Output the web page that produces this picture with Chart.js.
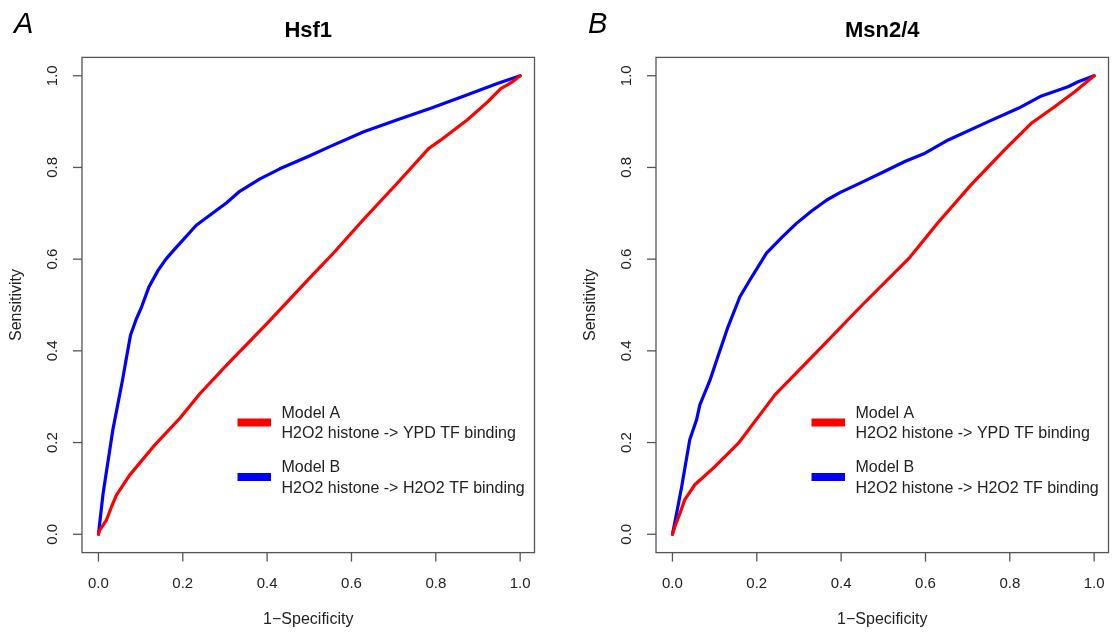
<!DOCTYPE html>
<html>
<head>
<meta charset="utf-8">
<script src="https://cdn.jsdelivr.net/npm/chart.js@4/dist/chart.umd.min.js"></script>
<style>
  body { margin: 0; background: #fff; }
  #wrap { position: relative; width: 1114px; height: 632px; }
  canvas { position: absolute; top: 0; }
</style>
</head>
<body>
<div id="wrap">
  <canvas id="hsf1Chart" width="540" height="632" style="left:0px"></canvas>
  <canvas id="msnChart" width="540" height="632" style="left:574px"></canvas>
</div>
<script>
// ROC curves (x = 1-specificity, y = sensitivity)
const hsf1ModelAFpr = [0, 0.003, 0.019, 0.031, 0.043, 0.074, 0.13, 0.193, 0.241, 0.3, 0.4, 0.5, 0.558, 0.629, 0.709, 0.784, 0.812, 0.875, 0.923, 0.954, 0.97, 0.982, 1];
const hsf1ModelATpr = [0, 0.009, 0.031, 0.06, 0.086, 0.129, 0.191, 0.253, 0.307, 0.365, 0.46, 0.558, 0.614, 0.687, 0.766, 0.842, 0.86, 0.904, 0.943, 0.972, 0.98, 0.987, 1];

const hsf1ModelBFpr = [0, 0.011, 0.034, 0.057, 0.066, 0.076, 0.09, 0.102, 0.12, 0.141, 0.16, 0.177, 0.232, 0.304, 0.335, 0.383, 0.43, 0.5, 0.55, 0.629, 0.709, 0.788, 0.867, 0.946, 1];
const hsf1ModelBTpr = [0, 0.089, 0.227, 0.336, 0.383, 0.434, 0.47, 0.495, 0.54, 0.575, 0.6, 0.618, 0.674, 0.723, 0.748, 0.775, 0.797, 0.825, 0.846, 0.878, 0.904, 0.929, 0.956, 0.983, 1];

const msnModelAFpr = [0, 0.006, 0.018, 0.029, 0.053, 0.1, 0.156, 0.243, 0.35, 0.45, 0.563, 0.63, 0.709, 0.788, 0.852, 0.907, 0.954, 1];
const msnModelATpr = [0, 0.017, 0.046, 0.075, 0.108, 0.147, 0.198, 0.304, 0.405, 0.5, 0.604, 0.68, 0.763, 0.839, 0.897, 0.933, 0.965, 1];

const msnModelBFpr = [0, 0.01, 0.022, 0.041, 0.057, 0.065, 0.089, 0.105, 0.132, 0.16, 0.184, 0.223, 0.26, 0.294, 0.33, 0.366, 0.397, 0.45, 0.5, 0.551, 0.599, 0.654, 0.749, 0.82, 0.875, 0.938, 0.962, 1];
const msnModelBTpr = [0, 0.046, 0.104, 0.206, 0.249, 0.282, 0.336, 0.38, 0.453, 0.518, 0.555, 0.613, 0.648, 0.678, 0.705, 0.729, 0.745, 0.768, 0.79, 0.813, 0.831, 0.86, 0.9, 0.929, 0.956, 0.976, 0.987, 1];

const tickValues = [0, 0.2, 0.4, 0.6, 0.8, 1.0];
const tickLabels = ["0.0", "0.2", "0.4", "0.6", "0.8", "1.0"];

const legendLabels = [
    ["Model A", "H2O2 histone -> YPD TF binding"],
    ["Model B", "H2O2 histone -> H2O2 TF binding"]
];

const FONT = '"Liberation Sans", Arial, Helvetica, sans-serif';

function toPoints(xs, ys) {
    return xs.map((x, i) => ({ x: x, y: ys[i] }));
}

// draws the R style frame: box, ticks, labels, titles, legend
const rFrame = {
    id: "rFrame",
    afterDraw(chart, args, opts) {
        const ctx = chart.ctx;
        const area = chart.chartArea;
        const xs = chart.scales.x;
        const ys = chart.scales.y;
        const tickLen = 9;

        ctx.save();
        ctx.strokeStyle = "#555";
        ctx.lineWidth = 1.3;
        ctx.strokeRect(area.left, area.top, area.right - area.left, area.bottom - area.top);

        ctx.fillStyle = "#222";
        ctx.font = "15px " + FONT;
        tickValues.forEach((v, i) => {
            const px = xs.getPixelForValue(v);
            ctx.beginPath();
            ctx.moveTo(px, area.bottom);
            ctx.lineTo(px, area.bottom + tickLen);
            ctx.stroke();
            ctx.textAlign = "center";
            ctx.textBaseline = "middle";
            ctx.fillText(tickLabels[i], px, 584);

            const py = ys.getPixelForValue(v);
            ctx.beginPath();
            ctx.moveTo(area.left, py);
            ctx.lineTo(area.left - tickLen, py);
            ctx.stroke();
            ctx.save();
            ctx.translate(area.left - 29.5, py);
            ctx.rotate(-Math.PI / 2);
            ctx.fillText(tickLabels[i], 0, 0);
            ctx.restore();
        });

        // axis titles
        ctx.font = "16px " + FONT;
        ctx.textAlign = "center";
        ctx.textBaseline = "middle";
        ctx.fillText("1\u2212Specificity", (area.left + area.right) / 2, 620);
        ctx.save();
        ctx.translate(17, (area.top + area.bottom) / 2);
        ctx.rotate(-Math.PI / 2);
        ctx.fillText("Sensitivity", 0, 0);
        ctx.restore();

        // panel title and letter
        ctx.fillStyle = "#000";
        ctx.font = "bold 22px " + FONT;
        ctx.textBaseline = "alphabetic";
        ctx.fillText(opts.title, (area.left + area.right) / 2, 37);
        ctx.font = "italic 29px " + FONT;
        ctx.textAlign = "left";
        ctx.fillText(opts.letter, 14, 32.5);

        // legend
        const rows = [
            { color: chart.data.datasets[0].borderColor, lines: legendLabels[0], y: 417.7 },
            { color: chart.data.datasets[1].borderColor, lines: legendLabels[1], y: 472.3 }
        ];
        ctx.font = "16px " + FONT;
        ctx.fillStyle = "#222";
        rows.forEach(r => {
            ctx.strokeStyle = r.color;
            ctx.lineWidth = 8;
            ctx.beginPath();
            ctx.moveTo(237.5, r.y + 4.8);
            ctx.lineTo(271, r.y + 4.8);
            ctx.stroke();
            ctx.fillText(r.lines[0], 281.5, r.y);
            ctx.fillText(r.lines[1], 281.5, r.y + 20.6);
        });
        ctx.restore();
    }
};

function makePanel(canvasId, title, letter, redFpr, redTpr, blueFpr, blueTpr) {
    const ctx = document.getElementById(canvasId).getContext("2d");
    return new Chart(ctx, {
        type: "line",
        data: {
            datasets: [
                { label: legendLabels[0].join(" "), data: toPoints(redFpr, redTpr), borderColor: "#ff0000", borderWidth: 3.2 },
                { label: legendLabels[1].join(" "), data: toPoints(blueFpr, blueTpr), borderColor: "#0000ff", borderWidth: 3.2 }
            ]
        },
        options: {
            responsive: false,
            animation: false,
            devicePixelRatio: 1,
            elements: { point: { radius: 0 }, line: { tension: 0, borderCapStyle: "round", borderJoinStyle: "round" } },
            layout: { padding: { left: 82, right: 5.5, top: 57.4, bottom: 79.4 } },
            scales: {
                x: { type: "linear", min: -0.039, max: 1.034, display: false },
                y: { type: "linear", min: -0.04, max: 1.04, display: false }
            },
            plugins: {
                legend: { display: false },
                tooltip: { enabled: false },
                rFrame: { title: title, letter: letter }
            }
        },
        plugins: [rFrame]
    });
}

makePanel("hsf1Chart", "Hsf1", "A", hsf1ModelAFpr, hsf1ModelATpr, hsf1ModelBFpr, hsf1ModelBTpr);
makePanel("msnChart", "Msn2/4", "B", msnModelAFpr, msnModelATpr, msnModelBFpr, msnModelBTpr);
</script>
</body>
</html>
